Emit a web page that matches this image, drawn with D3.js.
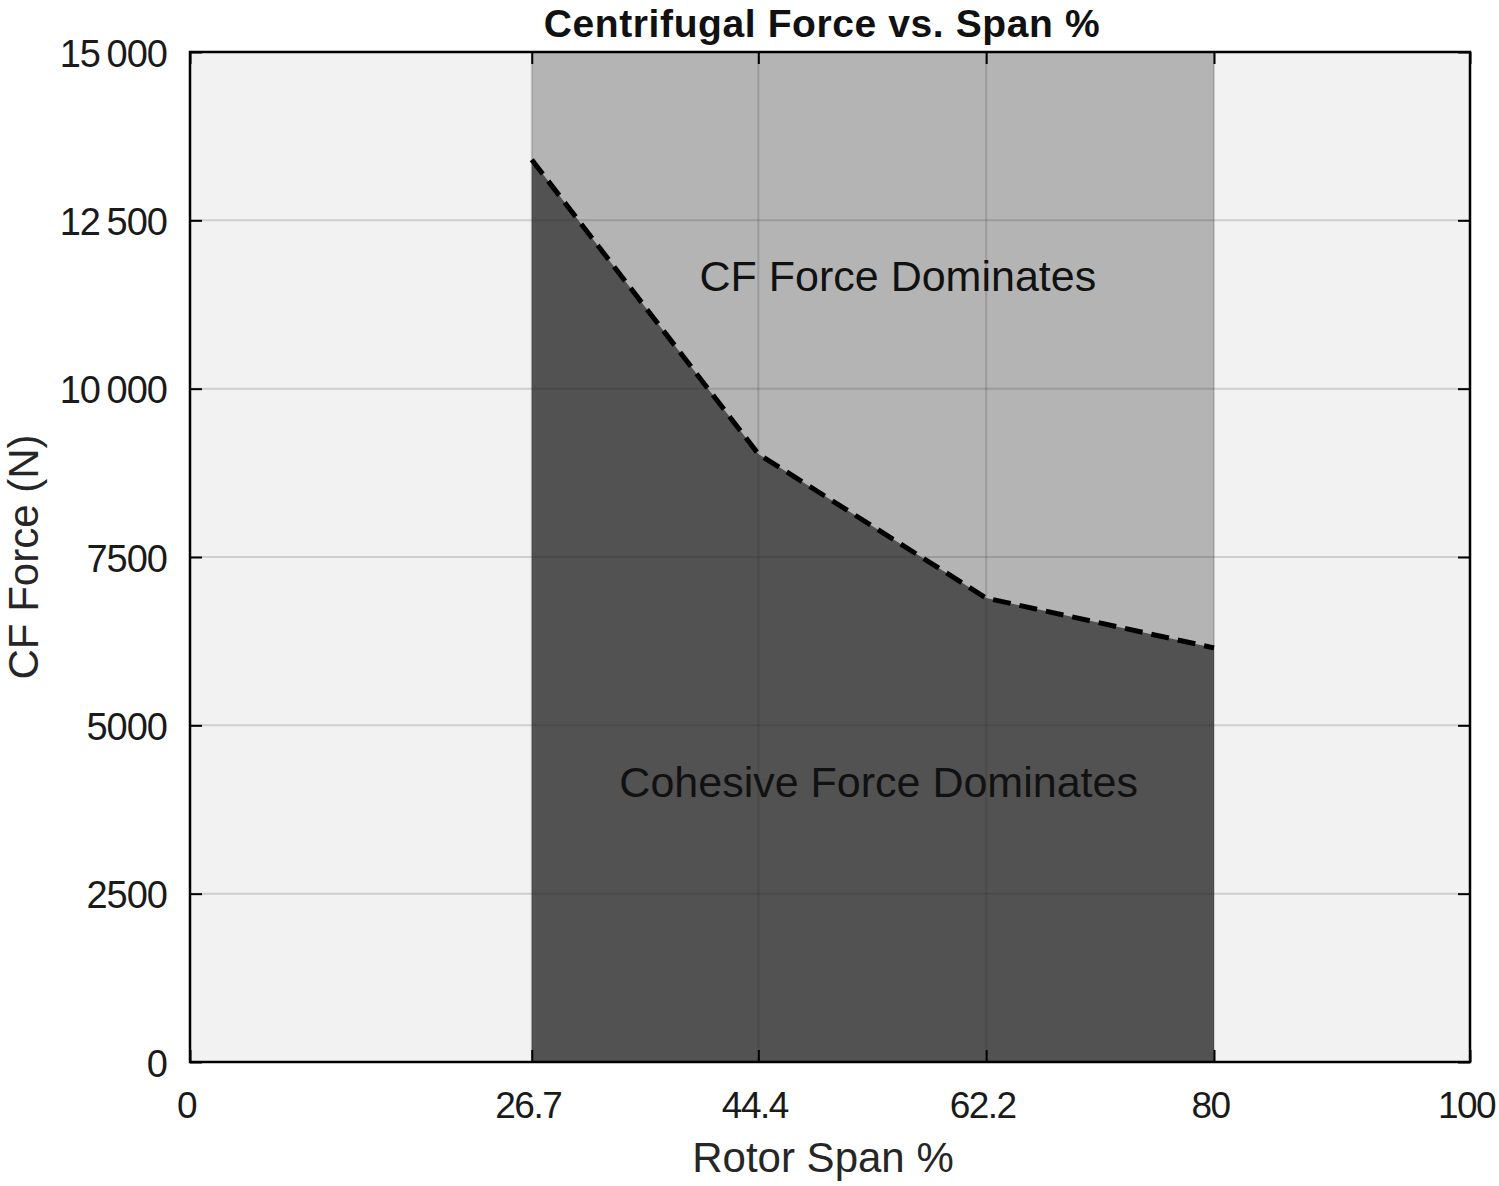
<!DOCTYPE html>
<html lang="en">
<meta charset="utf-8">
<style>
body { margin: 0; background: #fff; }
text { font-family: "Liberation Sans", Arial, sans-serif; }
</style>
<body>
<script src="https://d3js.org/d3.v7.min.js"></script>
<script>
// data
var spanPct = [26.7, 44.4, 62.2, 80];
var cfForce = [13400, 9030, 6890, 6150];
var xTicks = [0, 26.7, 44.4, 62.2, 80, 100];
var yTicks = [0, 2500, 5000, 7500, 10000, 12500, 15000];
var yTickLabels = ["0", "2500", "5000", "7500", "10\u2009000", "12\u2009500", "15\u2009000"];

var w = 1499, h = 1186;
var m = {left: 190, right: 29, top: 52, bottom: 124};
var iw = w - m.left - m.right, ih = h - m.top - m.bottom;

var svg = d3.select("body").append("svg")
  .attr("width", w).attr("height", h);

var x = d3.scaleLinear().domain([0, 100]).range([0, iw]);
var y = d3.scaleLinear().domain([0, 15000]).range([ih, 0]);

var g = svg.append("g").attr("transform", "translate(" + m.left + "," + m.top + ")");

// plot background
g.append("rect").attr("width", iw).attr("height", ih).attr("fill", "#f2f2f2");

// span band (CF force region)
g.append("rect")
  .attr("x", x(spanPct[0]))
  .attr("width", x(spanPct[spanPct.length - 1]) - x(spanPct[0]))
  .attr("y", 0).attr("height", ih)
  .attr("fill", "#b4b4b4");

var pts = spanPct.map(function(s, i) { return [s, cfForce[i]]; });

// cohesive region under the curve
g.append("path")
  .datum(pts)
  .attr("fill", "#525252")
  .attr("d", d3.area()
    .x(function(d) { return x(d[0]); })
    .y0(y(0))
    .y1(function(d) { return y(d[1]); }));

// grid
g.selectAll(".gx").data(xTicks).enter().append("line")
  .attr("x1", function(d) { return x(d); }).attr("x2", function(d) { return x(d); })
  .attr("y1", 0).attr("y2", ih)
  .attr("stroke", "#262626").attr("stroke-opacity", 0.17).attr("stroke-width", 2);
g.selectAll(".gy").data(yTicks).enter().append("line")
  .attr("y1", function(d) { return y(d); }).attr("y2", function(d) { return y(d); })
  .attr("x1", 0).attr("x2", iw)
  .attr("stroke", "#262626").attr("stroke-opacity", 0.17).attr("stroke-width", 2);

// dashed boundary
g.append("path")
  .datum(pts)
  .attr("fill", "none")
  .attr("stroke", "#000")
  .attr("stroke-width", 5)
  .attr("stroke-dasharray", "18,9")
  .attr("d", d3.line()
    .x(function(d) { return x(d[0]); })
    .y(function(d) { return y(d[1]); }));

// axes: box with inward ticks on all sides
var tk = 12;
function styleAxis(sel) {
  sel.select(".domain").remove();
  sel.selectAll(".tick line").attr("stroke", "#000").attr("stroke-width", 2);
  sel.selectAll(".tick text").attr("fill", "#1a1a1a")
    .style("font-size", "38px").style("letter-spacing", "-1px");
}
g.append("g").attr("transform", "translate(0," + ih + ")")
  .call(d3.axisBottom(x).tickValues(xTicks).tickSizeInner(-tk).tickPadding(30)
    .tickFormat(function(d) { return String(d); }))
  .call(styleAxis)
  .selectAll(".tick text").attr("dx", -4).style("font-size", "37px")
  .style("letter-spacing", "-1.5px");
g.append("g")
  .call(d3.axisTop(x).tickValues(xTicks).tickSizeInner(-tk).tickFormat(""))
  .call(styleAxis);
g.append("g")
  .call(d3.axisLeft(y).tickValues(yTicks).tickSizeInner(-tk).tickPadding(23)
    .tickFormat(function(d, i) { return yTickLabels[i]; }))
  .call(styleAxis)
  .selectAll(".tick text").attr("dy", "0.37em");
g.append("g").attr("transform", "translate(" + iw + ",0)")
  .call(d3.axisRight(y).tickValues(yTicks).tickSizeInner(-tk).tickFormat(""))
  .call(styleAxis);

g.append("rect").attr("width", iw).attr("height", ih)
  .attr("fill", "none").attr("stroke", "#000").attr("stroke-width", 2.5);

// annotations
g.append("text")
  .attr("x", x(55.3)).attr("y", y(11450))
  .attr("text-anchor", "middle")
  .style("font-size", "43px").attr("fill", "#111")
  .text("CF Force Dominates");
g.append("text")
  .attr("x", x(53.8)).attr("y", y(3930))
  .attr("text-anchor", "middle")
  .style("font-size", "43px").attr("fill", "#111")
  .text("Cohesive Force Dominates");

// title and axis labels
svg.append("text")
  .attr("x", 822).attr("y", 37)
  .attr("text-anchor", "middle")
  .style("font-size", "39px").style("font-weight", "bold")
  .style("letter-spacing", "0.6px")
  .attr("fill", "#111")
  .text("Centrifugal Force vs. Span %");
svg.append("text")
  .attr("x", 823).attr("y", 1172)
  .attr("text-anchor", "middle")
  .style("font-size", "42px").attr("fill", "#262626")
  .text("Rotor Span %");
svg.append("text")
  .attr("transform", "translate(38,557) rotate(-90)")
  .attr("text-anchor", "middle")
  .style("font-size", "42px").attr("fill", "#262626")
  .text("CF Force (N)");
</script>
</body>
</html>
